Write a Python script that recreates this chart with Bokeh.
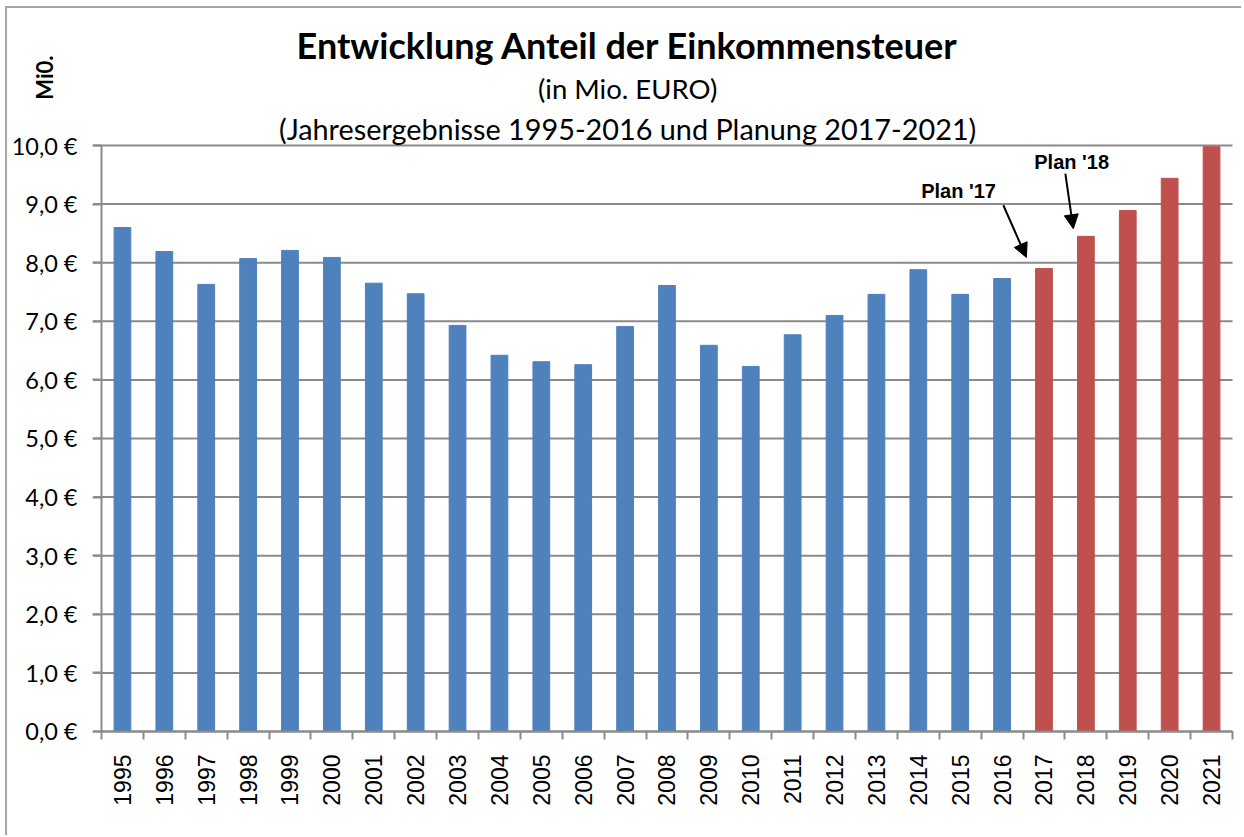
from bokeh.plotting import figure
from bokeh.models import (FixedTicker, Range1d, Label, Arrow, NormalHead, ColumnDataSource)
from bokeh.embed import file_html
from bokeh.resources import INLINE
import math

# ---- data ----
years = ["1995", "1996", "1997", "1998", "1999", "2000", "2001", "2002", "2003",
         "2004", "2005", "2006", "2007", "2008", "2009", "2010", "2011", "2012",
         "2013", "2014", "2015", "2016", "2017", "2018", "2019", "2020", "2021"]
values = [8.60, 8.19, 7.63, 8.07, 8.21, 8.09, 7.65, 7.47, 6.93,
          6.42, 6.31, 6.26, 6.91, 7.61, 6.59, 6.23, 6.77, 7.10,
          7.46, 7.88, 7.46, 7.73, 7.90, 8.45, 8.89, 9.44, 9.98]
kind = ["ist"] * 22 + ["plan"] * 5
y_ticks = [0, 1, 2, 3, 4, 5, 6, 7, 8, 9, 10]
y_tick_labels = ["0,0 €", "1,0 €", "2,0 €", "3,0 €", "4,0 €", "5,0 €",
                 "6,0 €", "7,0 €", "8,0 €", "9,0 €", "10,0 €"]

title_1 = "Entwicklung Anteil der Einkommensteuer"
title_2 = "(in Mio. EURO)"
title_3 = "(Jahresergebnisse 1995-2016 und Planung 2017-2021)"
unit_label = "Mi0."

BLUE = "#4F81BD"
RED = "#C0504D"
GRID = "#8a8a8a"

n = len(years)
idx = list(range(n))
colors = [BLUE if k == "ist" else RED for k in kind]
src = ColumnDataSource(dict(x=idx, top=values, color=colors))

X0 = -0.5                       # left edge of the bar area (data units)
p = figure(width=1236, height=829, output_backend="svg", toolbar_location=None,
           x_range=Range1d(-2.744, 26.763), y_range=Range1d(-1.809, 12.338),
           min_border_left=0, min_border_top=0, min_border_right=0,
           min_border_bottom=0)
p.outline_line_color = None
p.background_fill_color = "white"
p.border_fill_color = "white"
p.styles = {"margin-left": "5px", "margin-top": "6px",
            "border-left": "2px solid #a6a6a6", "border-top": "2px solid #a6a6a6"}

# horizontal gridlines (extend slightly left of the axis like tick marks)
p.ygrid.grid_line_color = None
p.xgrid.grid_line_color = None
p.segment(x0=X0 - 0.19, x1=n - 0.5, y0=y_ticks, y1=y_ticks, line_color=GRID, line_width=2)

p.vbar(x="x", top="top", bottom=0, width=0.40, color="color", source=src)

# y axis (fixed at the left edge of the bar area)
p.yaxis.fixed_location = X0
p.yaxis.ticker = FixedTicker(ticks=y_ticks)
p.yaxis.bounds = (0, 10)
p.yaxis.major_label_overrides = {t: l for t, l in zip(y_ticks, y_tick_labels)}
p.yaxis.major_label_text_font = "Lato"
p.yaxis.major_label_text_font_size = "23.5px"
p.yaxis.major_label_text_color = "black"
p.yaxis.major_label_standoff = 15
p.yaxis.major_tick_out = 9
p.yaxis.major_tick_in = 0
p.yaxis.minor_tick_line_color = None
p.yaxis.axis_line_color = GRID
p.yaxis.axis_line_width = 2
p.yaxis.major_tick_line_color = GRID
p.yaxis.major_tick_line_width = 2

# x axis at y = 0: labels at centres, ticks at boundaries (as minor ticks)
p.xaxis.fixed_location = 0
p.xaxis.ticker = FixedTicker(ticks=idx, minor_ticks=[i - 0.5 for i in range(n + 1)])
p.xaxis.bounds = (X0, n - 0.5)
p.xaxis.major_label_overrides = {i: y for i, y in zip(idx, years)}
p.xaxis.major_label_orientation = math.pi / 2
p.xaxis.major_label_text_font = "Liberation Sans"
p.xaxis.major_label_text_font_size = "23px"
p.xaxis.major_label_text_color = "black"
p.xaxis.major_label_standoff = 15
p.xaxis.major_tick_line_color = None
p.xaxis.major_tick_out = 0
p.xaxis.major_tick_in = 0
p.xaxis.minor_tick_line_color = GRID
p.xaxis.minor_tick_line_width = 2
p.xaxis.minor_tick_out = 8
p.xaxis.minor_tick_in = 0
p.xaxis.axis_line_color = GRID
p.xaxis.axis_line_width = 2

# titles
p.add_layout(Label(x=12.06, y=11.72, text=title_1, text_font="Lato", text_font_style="bold",
                   text_font_size="36px", text_color="black",
                   text_align="center", text_baseline="middle"))
p.add_layout(Label(x=12.06, y=10.97, text=title_2, text_font="Lato",
                   text_font_size="27.5px", text_color="black",
                   text_align="center", text_baseline="middle"))
p.add_layout(Label(x=12.06, y=10.29, text=title_3, text_font="Lato",
                   text_font_size="28.8px", text_color="black",
                   text_align="center", text_baseline="middle"))
p.add_layout(Label(x=-1.861, y=11.16, text=unit_label, text_font="Lato",
                   text_font_style="bold", text_font_size="22px", text_color="black",
                   text_align="center", text_baseline="middle", angle=math.pi / 2))

# plan annotations
p.add_layout(Label(x=19.96, y=9.23, text="Plan '17", text_font="Liberation Sans",
                   text_font_style="bold", text_font_size="20px", text_color="black",
                   text_align="center", text_baseline="middle"))
p.add_layout(Label(x=22.66, y=9.71, text="Plan '18", text_font="Liberation Sans",
                   text_font_style="bold", text_font_size="20px", text_color="black",
                   text_align="center", text_baseline="middle"))
p.add_layout(Arrow(x_start=21.03, y_start=8.98, x_end=21.58, y_end=8.09,
                   line_color="black", line_width=2,
                   end=NormalHead(size=14, fill_color="black", line_color="black")))
p.add_layout(Arrow(x_start=22.51, y_start=9.52, x_end=22.70, y_end=8.58,
                   line_color="black", line_width=2,
                   end=NormalHead(size=14, fill_color="black", line_color="black")))

open("out.html", "w").write(file_html(p, INLINE))
